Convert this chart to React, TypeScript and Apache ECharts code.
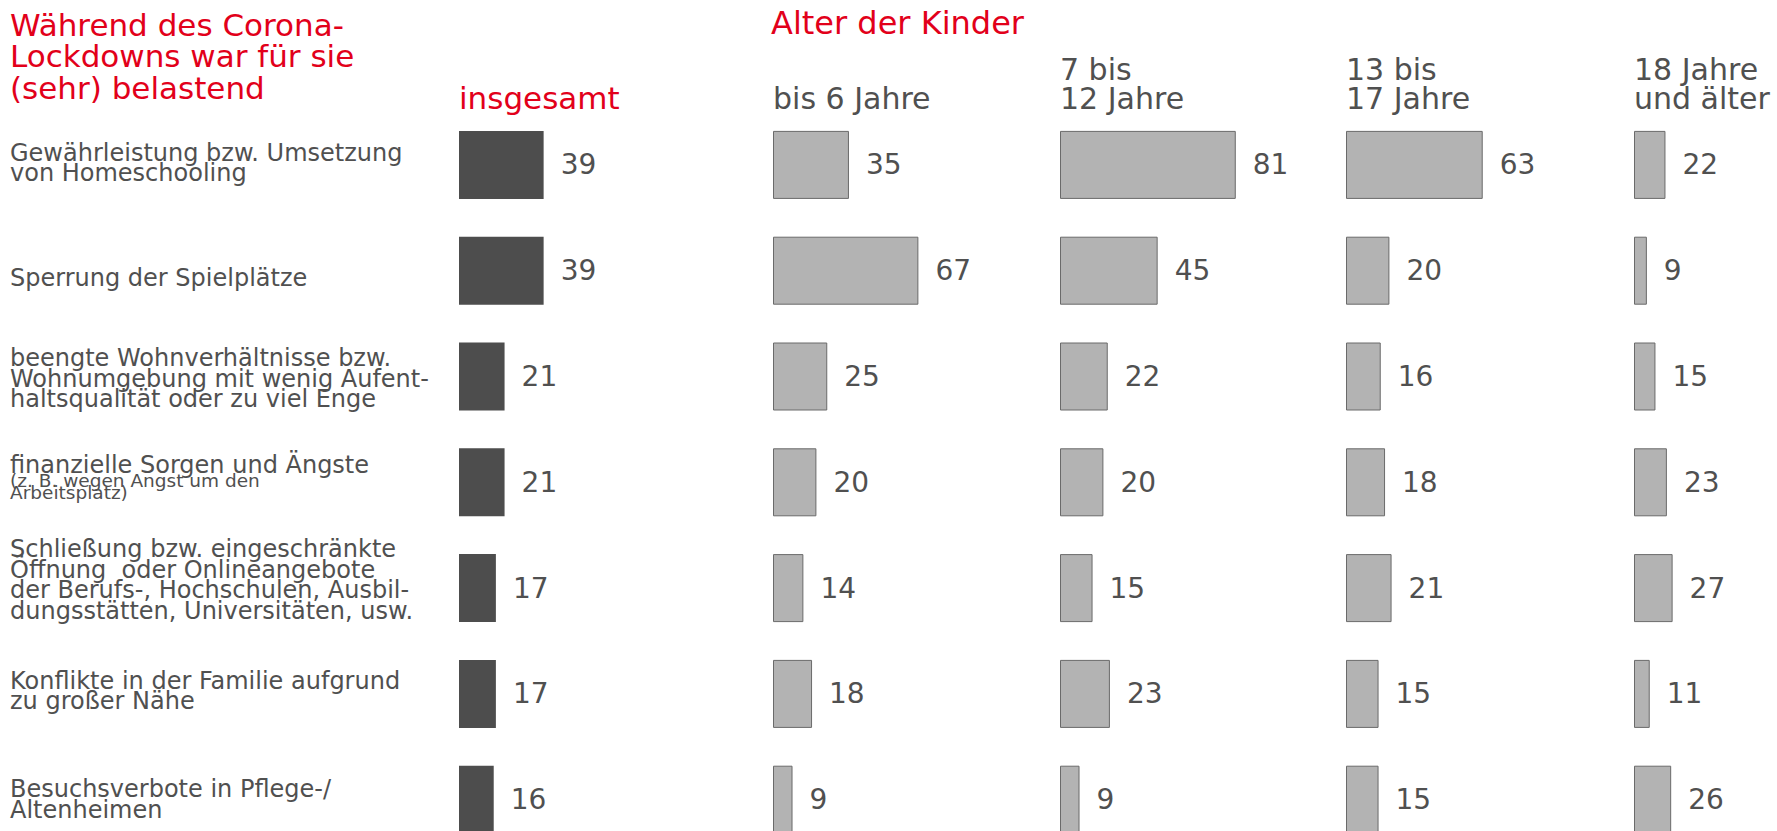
import React, { useEffect, useRef } from "react";
import * as echarts from "echarts";

const categories = [
  "Gewährleistung bzw. Umsetzung\nvon Homeschooling",
  "Sperrung der Spielplätze",
  "beengte Wohnverhältnisse bzw.\nWohnumgebung mit wenig Aufent-\nhaltsqualität oder zu viel Enge",
  "finanzielle Sorgen und Ängste\n(z. B. wegen Angst um den\nArbeitsplatz)",
  "Schließung bzw. eingeschränkte\nÖffnung  oder Onlineangebote\nder Berufs-, Hochschulen, Ausbil-\ndungsstätten, Universitäten, usw.",
  "Konflikte in der Familie aufgrund\nzu großer Nähe",
  "Besuchsverbote in Pflege-/\nAltenheimen",
];

const columnHeaders = [
  "insgesamt",
  "bis 6 Jahre",
  "7 bis\n12 Jahre",
  "13 bis\n17 Jahre",
  "18 Jahre\nund älter",
];

const insgesamt = [39, 39, 21, 21, 17, 17, 16];
const bis6 = [35, 67, 25, 20, 14, 18, 9];
const bis12 = [81, 45, 22, 20, 15, 23, 9];
const bis17 = [63, 20, 16, 18, 21, 15, 15];
const ab18 = [22, 9, 15, 23, 27, 11, 26];

const seriesData = [insgesamt, bis6, bis12, bis17, ab18];

const titleText = "Während des Corona-\nLockdowns war für sie\n(sehr) belastend";
const ageTitle = "Alter der Kinder";

const FONT = "'DejaVu Sans', Verdana, sans-serif";
const RED = "#e2001a";
const TEXT = "#505050";

// vertical offset of each category label relative to its bar (px, + = down)
const labelShift = [-2, 7, 2, -4.5, -8, -3, 0];
// row index whose lines after the first are set in small type
const smallRow = 3;

export default function App() {
  const ref = useRef<HTMLDivElement>(null);
  useEffect(() => {
    if (!ref.current) return;
    const chart = echarts.init(ref.current, undefined, { renderer: "svg" });
    const lefts = [459, 773, 1060, 1346, 1634];
    const pxPerUnit = 2.17;
    const axisMax = 100;
    const gridTop = 112;
    const gridHeight = 105.8 * 7;

    const grid = lefts.map((l) => ({
      left: l,
      top: gridTop,
      width: axisMax * pxPerUnit,
      height: gridHeight,
      containLabel: false,
    }));

    const xAxis = lefts.map((_, i) => ({
      type: "value",
      gridIndex: i,
      min: 0,
      max: axisMax,
      show: false,
    }));

    const formatLabel = (value: string, index: number) => {
      const lines = value.split("\n").map((ln, j) => {
        const key = index === smallRow && j > 0 ? "s" : index === smallRow ? "m2" : "m";
        return `{${key}|${ln}}`;
      });
      const d = labelShift[index] || 0;
      if (d > 0) lines.unshift(`{g${index}| }`);
      if (d < 0) lines.push(`{g${index}| }`);
      return lines.join("\n");
    };

    const rich: any = {
      m: { fontFamily: FONT, fontSize: 24, lineHeight: 20.5, color: TEXT },
      m2: { fontFamily: FONT, fontSize: 24, lineHeight: 17, color: TEXT },
      s: { fontFamily: FONT, fontSize: 18.5, lineHeight: 12.5, color: TEXT },
    };
    labelShift.forEach((d, i) => {
      rich["g" + i] = { fontSize: 1, lineHeight: Math.abs(d) * 2, color: TEXT };
    });

    const yAxis = lefts.map((l, i) => ({
      type: "category",
      gridIndex: i,
      data: categories,
      inverse: true,
      axisLine: { show: false },
      axisTick: { show: false },
      splitLine: { show: false },
      axisLabel: {
        show: i === 0,
        align: "left",
        margin: l - 10,
        fontFamily: FONT,
        fontSize: 24,
        lineHeight: 20.5,
        color: TEXT,
        formatter: formatLabel,
        rich,
      },
    }));

    const series = seriesData.map((d, i) => ({
      type: "bar",
      xAxisIndex: i,
      yAxisIndex: i,
      data: d,
      barWidth: 68,
      clip: false,
      itemStyle:
        i === 0
          ? { color: "#4d4d4d" }
          : { color: "#b3b3b3", borderColor: "#6a6a6a", borderWidth: 1 },
      label: {
        show: true,
        position: "right",
        distance: 17,
        fontFamily: FONT,
        fontSize: 28,
        color: TEXT,
      },
    }));

    const graphic: any[] = [
      {
        type: "text",
        left: 10,
        top: 9,
        style: {
          text: titleText,
          fontFamily: FONT,
          fontSize: 31,
          lineHeight: 31.5,
          fill: RED,
        },
      },
      {
        type: "text",
        left: 771,
        top: 7,
        style: {
          text: ageTitle,
          fontFamily: FONT,
          fontSize: 32,
          lineHeight: 31.5,
          fill: RED,
        },
      },
    ];
    columnHeaders.forEach((h, i) => {
      graphic.push({
        type: "text",
        x: lefts[i],
        y: 112.5,
        style: {
          text: h,
          fontFamily: FONT,
          fontSize: i === 0 ? 31 : 30,
          lineHeight: 28.5,
          fill: i === 0 ? RED : TEXT,
          align: "left",
          verticalAlign: "bottom",
        },
      });
    });

    chart.setOption({
      animation: false,
      backgroundColor: "#ffffff",
      grid,
      xAxis,
      yAxis,
      series,
      graphic,
    });
    return () => chart.dispose();
  }, []);
  return (
    <div
      style={{
        position: "fixed",
        left: 0,
        top: 0,
        width: 1777,
        height: 831,
        overflow: "hidden",
        background: "#ffffff",
      }}
    >
      <div ref={ref} style={{ width: 1777, height: 900 }} />
    </div>
  );
}
